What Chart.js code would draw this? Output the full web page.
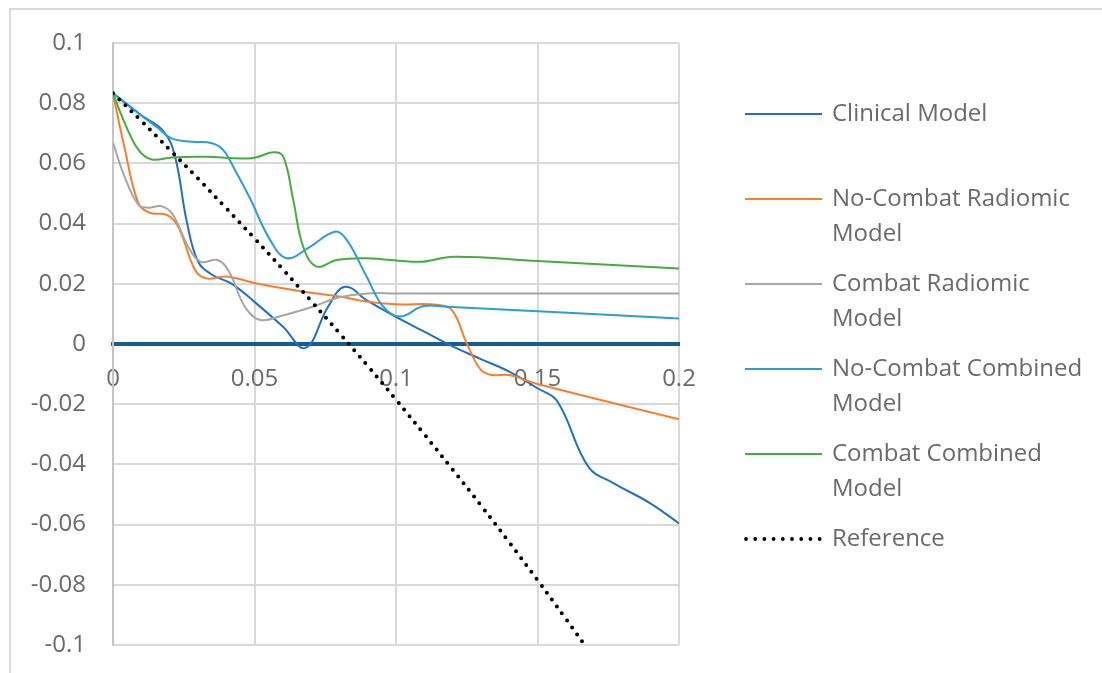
<!DOCTYPE html>
<html>
<head>
<meta charset="utf-8">
<script src="https://cdn.jsdelivr.net/npm/chart.js@4.4.1/dist/chart.umd.min.js"></script>
<style>
  html, body { margin: 0; padding: 0; background: #ffffff; }
  #wrap { width: 1102px; height: 673px; position: relative; }
</style>
</head>
<body>
<div id="wrap"><canvas id="c" width="1102" height="673"></canvas></div>
<script>
// ---- Data ----
const seriesNames = ["Clinical Model", "No-Combat Radiomic Model", "Combat Radiomic Model",
                     "No-Combat Combined Model", "Combat Combined Model", "Reference"];
const legendLines = [["Clinical Model"], ["No-Combat Radiomic", "Model"], ["Combat Radiomic", "Model"],
                     ["No-Combat Combined", "Model"], ["Combat Combined", "Model"], ["Reference"]];
const xTickValues = [0, 0.05, 0.1, 0.15, 0.2];
const yTickValues = [0.1, 0.08, 0.06, 0.04, 0.02, 0, -0.02, -0.04, -0.06, -0.08, -0.1];

const clinicalX = [0, 0.01, 0.018, 0.022, 0.026, 0.03, 0.035, 0.042, 0.05, 0.06, 0.068, 0.076, 0.082, 0.09, 0.1, 0.11, 0.12, 0.13, 0.14, 0.15, 0.157, 0.168, 0.177, 0.19, 0.2];
const clinicalY = [0.0833, 0.0760, 0.0705, 0.0620, 0.0410, 0.0275, 0.0230, 0.0200, 0.0140, 0.0058, -0.0013, 0.0124, 0.0190, 0.0143, 0.0090, 0.0041, -0.0008, -0.0050, -0.0092, -0.0147, -0.0190, -0.0408, -0.0463, -0.0530, -0.0596];

const noCombatRadX = [0, 0.004, 0.009, 0.013, 0.019, 0.023, 0.029, 0.033, 0.04, 0.05, 0.06, 0.07, 0.08, 0.09, 0.1, 0.115, 0.12, 0.125, 0.13, 0.134, 0.14, 0.15, 0.2];
const noCombatRadY = [0.0833, 0.0655, 0.0467, 0.0436, 0.0429, 0.0390, 0.0246, 0.0218, 0.0224, 0.0203, 0.0185, 0.0170, 0.0158, 0.0140, 0.0132, 0.0130, 0.0110, 0.0002, -0.0086, -0.0103, -0.0103, -0.0133, -0.0250];

const combatRadX = [0, 0.004, 0.009, 0.0125, 0.017, 0.021, 0.0266, 0.031, 0.037, 0.041, 0.0466, 0.052, 0.06, 0.07, 0.08, 0.09, 0.1, 0.2];
const combatRadY = [0.0669, 0.0558, 0.0462, 0.0453, 0.0458, 0.0432, 0.0323, 0.0273, 0.0279, 0.0240, 0.0124, 0.0080, 0.0095, 0.0122, 0.0155, 0.0168, 0.0168, 0.0168];

const noCombatCombX = [0, 0.009, 0.016, 0.0207, 0.028, 0.035, 0.039, 0.0431, 0.0484, 0.0555, 0.0614, 0.0696, 0.0784, 0.0826, 0.0896, 0.0955, 0.1014, 0.1097, 0.118, 0.2];
const noCombatCombY = [0.0833, 0.0766, 0.0717, 0.0683, 0.0672, 0.0667, 0.0644, 0.0578, 0.0484, 0.0346, 0.0285, 0.0323, 0.0373, 0.0346, 0.0224, 0.0124, 0.0091, 0.0126, 0.0124, 0.0085];

const combatCombX = [0, 0.0042, 0.009, 0.0137, 0.0207, 0.0325, 0.049, 0.0567, 0.0602, 0.0637, 0.0672, 0.072, 0.079, 0.0896, 0.1085, 0.1203, 0.15, 0.2];
const combatCombY = [0.0833, 0.0733, 0.0645, 0.0613, 0.0620, 0.0622, 0.0617, 0.0637, 0.0622, 0.0478, 0.0323, 0.0257, 0.0279, 0.0285, 0.0273, 0.0290, 0.0276, 0.0251];

const referenceX = [0, 0.01, 0.02, 0.03, 0.04, 0.05, 0.06, 0.07, 0.08, 0.09, 0.1, 0.11, 0.12, 0.13, 0.14, 0.15, 0.16, 0.17];
const referenceY = [0.0833, 0.0741, 0.0646, 0.0550, 0.0451, 0.0351, 0.0248, 0.0143, 0.0036, -0.0073, -0.0185, -0.0300, -0.0417, -0.0536, -0.0659, -0.0784, -0.0913, -0.1044];

// ---- Styles ----
const colors = ["#1f70c6", "#f5802c", "#a6a6a6", "#2b9ddb", "#45ad3e", "#000000"];
const FONT = "'Open Sans', 'DejaVu Sans', sans-serif";
const TEXT_COLOR = "#6a6a6a";

function pts(xs, ys) { return xs.map((x, i) => ({ x: x, y: ys[i] })); }
function fmt(v) { const r = Math.round(v * 100) / 100; return String(r === 0 ? 0 : r); }

const xsList = [clinicalX, noCombatRadX, combatRadX, noCombatCombX, combatCombX, referenceX];
const ysList = [clinicalY, noCombatRadY, combatRadY, noCombatCombY, combatCombY, referenceY];

const datasets = seriesNames.map((name, i) => {
  const isRef = i === 5;
  return {
    label: name,
    data: pts(xsList[i], ysList[i]),
    borderColor: colors[i],
    backgroundColor: colors[i],
    borderWidth: isRef ? 4 : 2,
    borderDash: isRef ? [0, 8.6] : [],
    borderCapStyle: isRef ? 'round' : 'butt',
    pointRadius: 0,
    tension: 0.4,
    fill: false,
    order: 5 - i
  };
});

// Outer frame (left and top edges only, as in the reference)
const framePlugin = {
  id: 'frame',
  beforeDraw(chart) {
    const ctx = chart.ctx;
    ctx.save();
    ctx.fillStyle = '#ffffff';
    ctx.fillRect(0, 0, chart.width, chart.height);
    ctx.strokeStyle = '#d9d9d9';
    ctx.lineWidth = 2;
    ctx.beginPath();
    ctx.moveTo(10, chart.height);
    ctx.lineTo(10, 9);
    ctx.lineTo(chart.width, 9);
    ctx.stroke();
    ctx.restore();
  }
};

// Custom legend on the right with wrapped labels
const legendPlugin = {
  id: 'sideLegend',
  afterDraw(chart) {
    const ctx = chart.ctx;
    const x0 = 745, x1 = 822, tx = 832;
    const firstY = 114, gap = 85, lineGap = 35;
    ctx.save();
    ctx.font = "24px " + FONT;
    ctx.textBaseline = 'middle';
    ctx.textAlign = 'left';
    legendLines.forEach((lines, i) => {
      const y = firstY + i * gap;
      if (i === 5) {
        ctx.fillStyle = colors[i];
        for (let k = 0; k < 9; k++) {
          ctx.beginPath();
          ctx.arc(x0 + 1 + k * 9.2, y, 1.9, 0, Math.PI * 2);
          ctx.fill();
        }
      } else {
        ctx.strokeStyle = colors[i];
        ctx.lineWidth = 2;
        ctx.beginPath();
        ctx.moveTo(x0, y);
        ctx.lineTo(x1, y);
        ctx.stroke();
      }
      ctx.fillStyle = TEXT_COLOR;
      lines.forEach((t, j) => ctx.fillText(t, tx, y + j * lineGap));
    });
    ctx.restore();
  }
};

Chart.defaults.font.family = FONT;

new Chart(document.getElementById('c'), {
  type: 'line',
  data: { datasets: datasets },
  options: {
    responsive: false,
    animation: false,
    devicePixelRatio: 1,
    layout: { padding: { left: 20, top: 43, right: 423, bottom: 28 } },
    plugins: { legend: { display: false }, tooltip: { enabled: false } },
    scales: {
      x: {
        type: 'linear',
        min: 0, max: 0.2,
        position: { y: 0 },
        afterBuildTicks(scale) { scale.ticks = xTickValues.map(v => ({ value: v })); },
        afterFit(scale) { scale.height = 0; scale.paddingLeft = 0; scale.paddingRight = 0; },
        ticks: {
          callback: fmt,
          color: TEXT_COLOR,
          font: { size: 24 },
          padding: 21,
          autoSkip: false,
          maxRotation: 0
        },
        grid: { color: '#d9d9d9', lineWidth: 2, drawTicks: false },
        border: { display: true, color: '#165d96', width: 4 }
      },
      y: {
        type: 'linear',
        min: -0.1, max: 0.1,
        afterBuildTicks(scale) { scale.ticks = yTickValues.map(v => ({ value: v })); },
        afterFit(scale) { scale.width = 93; scale.paddingTop = 0; scale.paddingBottom = 0; },
        ticks: {
          callback: fmt,
          color: TEXT_COLOR,
          font: { size: 24 },
          padding: 27
        },
        grid: { color: '#d9d9d9', lineWidth: 2, drawTicks: false },
        border: { display: true, color: '#c4c4c4', width: 2 }
      }
    }
  },
  plugins: [framePlugin, legendPlugin]
});
</script>
</body>
</html>
